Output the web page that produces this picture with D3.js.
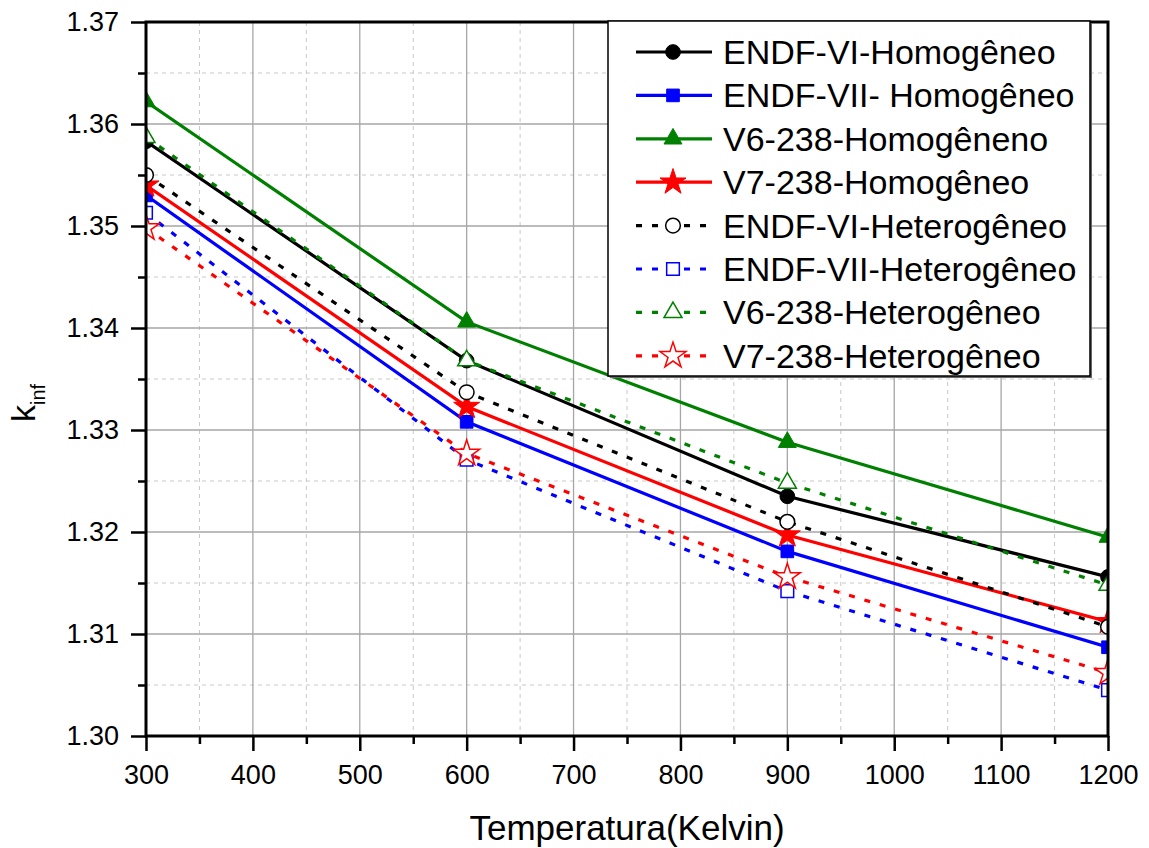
<!DOCTYPE html>
<html>
<head>
<meta charset="utf-8">
<script src="https://cdn.jsdelivr.net/npm/d3@7"></script>
<style>
  body { margin: 0; background: #fff; }
  svg { display: block; font-family: Arial, "Liberation Sans", sans-serif; }
</style>
</head>
<body>
<div id="chart"></div>
<script>
// temperatures (K)
const temps = [300, 600, 900, 1200];

// k_inf values
const endf6Hom   = [1.3583, 1.3368, 1.3235, 1.3156];
const endf7Hom   = [1.3530, 1.3308, 1.3181, 1.3087];
const v6Hom      = [1.3622, 1.3406, 1.3288, 1.3195];
const v7Hom      = [1.3540, 1.3323, 1.3197, 1.3112];
const endf6Het   = [1.3550, 1.3337, 1.3210, 1.3107];
const endf7Het   = [1.3513, 1.3271, 1.3142, 1.3045];
const v6Het      = [1.3587, 1.3368, 1.3248, 1.3148];
const v7Het      = [1.3498, 1.3277, 1.3156, 1.3062];

const seriesNames = [
  'ENDF-VI-Homogêneo', 'ENDF-VII- Homogêneo', 'V6-238-Homogêneno', 'V7-238-Homogêneo',
  'ENDF-VI-Heterogêneo', 'ENDF-VII-Heterogêneo', 'V6-238-Heterogêneo', 'V7-238-Heterogêneo'
];
const seriesValues = [endf6Hom, endf7Hom, v6Hom, v7Hom, endf6Het, endf7Het, v6Het, v7Het];
const seriesColors = ['#000000', '#0000ff', '#008000', '#ff0000', '#000000', '#0000ff', '#008000', '#ff0000'];
const seriesShapes = ['circle', 'square', 'triangle', 'star', 'circle', 'square', 'triangle', 'star'];
const seriesFilled = [true, true, true, true, false, false, false, false];

const xTicks = [300, 400, 500, 600, 700, 800, 900, 1000, 1100, 1200];
const yTicks = [1.30, 1.31, 1.32, 1.33, 1.34, 1.35, 1.36, 1.37];

const width = 1149, height = 848;
const pLeft = 146, pRight = 1108, pTop = 22, pBottom = 736;

const svg = d3.select('#chart').append('svg')
  .attr('width', width).attr('height', height);

const x = d3.scaleLinear().domain([300, 1200]).range([pLeft, pRight]);
const y = d3.scaleLinear().domain([1.30, 1.37]).range([pBottom, pTop]);

const xMinor = d3.range(350, 1200, 100);
const yMinor = d3.range(1.305, 1.37, 0.01);

// grid
const grid = svg.append('g');
grid.selectAll('.gxm').data(xMinor).enter().append('line')
  .attr('x1', d => x(d)).attr('x2', d => x(d)).attr('y1', pTop).attr('y2', pBottom)
  .attr('stroke', '#c8c8c8').attr('stroke-dasharray', '4,4');
grid.selectAll('.gym').data(yMinor).enter().append('line')
  .attr('y1', d => y(d)).attr('y2', d => y(d)).attr('x1', pLeft).attr('x2', pRight)
  .attr('stroke', '#c8c8c8').attr('stroke-dasharray', '4,4');
grid.selectAll('.gx').data(xTicks.slice(1, -1)).enter().append('line')
  .attr('x1', d => x(d)).attr('x2', d => x(d)).attr('y1', pTop).attr('y2', pBottom)
  .attr('stroke', '#a6a6a6').attr('stroke-width', 1.3);
grid.selectAll('.gy').data(yTicks.slice(1, -1)).enter().append('line')
  .attr('y1', d => y(d)).attr('y2', d => y(d)).attr('x1', pLeft).attr('x2', pRight)
  .attr('stroke', '#a6a6a6').attr('stroke-width', 1.3);

// series
svg.append('clipPath').attr('id', 'plotclip').append('rect')
  .attr('x', pLeft).attr('y', pTop).attr('width', pRight - pLeft).attr('height', pBottom - pTop);

const symbolType = { circle: d3.symbolCircle, square: d3.symbolSquare, triangle: d3.symbolTriangle, star: d3.symbolStar };
const symbolSize = { circle: 170, square: 160, triangle: 140, star: 210 };

const line = d3.line().x(d => x(d[0])).y(d => y(d[1]));
const plot = svg.append('g').attr('clip-path', 'url(#plotclip)');

seriesValues.forEach((vals, i) => {
  const pts = temps.map((t, j) => [t, vals[j]]);
  plot.append('path')
    .datum(pts)
    .attr('d', line)
    .attr('fill', 'none')
    .attr('stroke', seriesColors[i])
    .attr('stroke-width', 3.2)
    .attr('stroke-dasharray', seriesFilled[i] ? null : '6,10');
});

seriesValues.forEach((vals, i) => {
  const pts = temps.map((t, j) => [t, vals[j]]);
  const sym = d3.symbol().type(symbolType[seriesShapes[i]]).size(symbolSize[seriesShapes[i]]);
  plot.selectAll(null).data(pts).enter().append('path')
    .attr('d', sym)
    .attr('transform', d => 'translate(' + x(d[0]) + ',' + y(d[1]) + ')')
    .attr('fill', seriesFilled[i] ? seriesColors[i] : '#fff')
    .attr('stroke', seriesColors[i])
    .attr('stroke-width', seriesFilled[i] ? 1 : 1.5);
});

// axes
svg.append('g').attr('transform', 'translate(0,' + pBottom + ')')
  .call(d3.axisBottom(x).tickValues(xTicks).tickSize(15).tickPadding(14).tickFormat(d3.format('d')));
svg.append('g').attr('transform', 'translate(0,' + pBottom + ')')
  .call(d3.axisBottom(x).tickValues(xMinor).tickSize(8).tickFormat(''));
svg.append('g').attr('transform', 'translate(' + pLeft + ',0)')
  .call(d3.axisLeft(y).tickValues(yTicks).tickSize(15).tickPadding(12).tickFormat(d3.format('.2f')));
svg.append('g').attr('transform', 'translate(' + pLeft + ',0)')
  .call(d3.axisLeft(y).tickValues(yMinor).tickSize(8).tickFormat(''));

svg.selectAll('.domain').remove();
svg.selectAll('.tick line').attr('stroke', '#000').attr('stroke-width', 2.5);
svg.selectAll('.tick text').attr('font-size', 27).attr('fill', '#000')
  .attr('font-family', 'Arial, "Liberation Sans", sans-serif');

svg.append('rect')
  .attr('x', pLeft).attr('y', pTop).attr('width', pRight - pLeft).attr('height', pBottom - pTop)
  .attr('fill', 'none').attr('stroke', '#000').attr('stroke-width', 3);

// axis titles
svg.append('text')
  .attr('x', (pLeft + pRight) / 2).attr('y', 840)
  .attr('text-anchor', 'middle').attr('font-size', 35)
  .text('Temperatura(Kelvin)');

const yTitle = svg.append('text')
  .attr('transform', 'translate(35,422) rotate(-90)')
  .attr('font-size', 34);
yTitle.append('tspan').text('k');
yTitle.append('tspan').attr('font-size', 20).attr('dy', 10).text('inf');

// legend
const lg = svg.append('g');
lg.append('rect').attr('x', 610).attr('y', 23).attr('width', 482).attr('height', 355).attr('fill', '#666');
lg.append('rect').attr('x', 608).attr('y', 21).attr('width', 482).attr('height', 355)
  .attr('fill', '#fff').attr('stroke', '#000').attr('stroke-width', 1.5);

seriesNames.forEach((name, i) => {
  const cy = 52 + i * 43.4;
  const row = lg.append('g');
  row.append('line')
    .attr('x1', 636).attr('x2', 712).attr('y1', cy).attr('y2', cy)
    .attr('stroke', seriesColors[i]).attr('stroke-width', 3.2)
    .attr('stroke-dasharray', seriesFilled[i] ? null : '6,10');
  row.append('path')
    .attr('d', d3.symbol().type(symbolType[seriesShapes[i]]).size(symbolSize[seriesShapes[i]]))
    .attr('transform', 'translate(673,' + cy + ')')
    .attr('fill', seriesFilled[i] ? seriesColors[i] : '#fff')
    .attr('stroke', seriesColors[i])
    .attr('stroke-width', seriesFilled[i] ? 1 : 1.5);
  row.append('text')
    .attr('x', 723).attr('y', cy + 12)
    .attr('font-size', 34)
    .text(name);
});
</script>
</body>
</html>
